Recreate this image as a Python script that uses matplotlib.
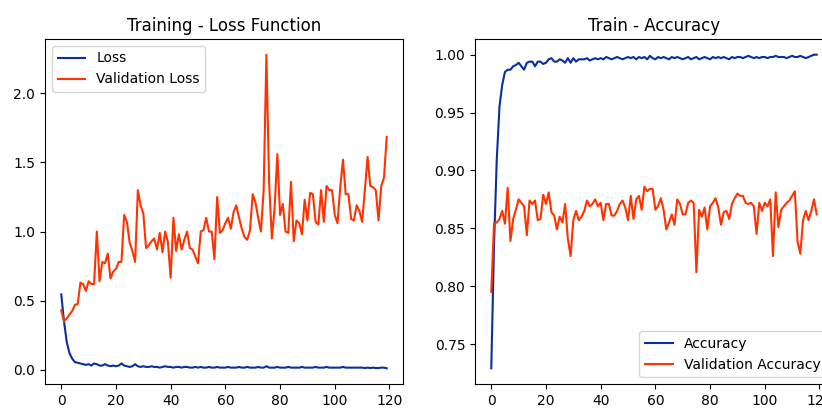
import matplotlib
matplotlib.use('Agg')
from matplotlib import pyplot as plt

### Data ###
loss = [0.545, 0.35, 0.20, 0.12, 0.08, 0.055, 0.05, 0.045, 0.04, 0.035,
        0.04, 0.03, 0.045, 0.04, 0.03, 0.03, 0.04, 0.03, 0.025, 0.03,
        0.025, 0.03, 0.045, 0.03, 0.025, 0.02, 0.025, 0.04, 0.025, 0.02,
        0.025, 0.02, 0.02, 0.025, 0.02, 0.02, 0.015, 0.02, 0.025, 0.02,
        0.02, 0.015, 0.02, 0.02, 0.015, 0.02, 0.02, 0.015, 0.015, 0.02,
        0.015, 0.02, 0.015, 0.015, 0.02, 0.015, 0.015, 0.02, 0.015, 0.015,
        0.015, 0.02, 0.015, 0.015, 0.015, 0.02, 0.015, 0.015, 0.02, 0.015,
        0.015, 0.015, 0.02, 0.015, 0.015, 0.025, 0.015, 0.015, 0.015, 0.02,
        0.015, 0.015, 0.015, 0.02, 0.015, 0.015, 0.015, 0.015, 0.02, 0.015,
        0.015, 0.015, 0.015, 0.02, 0.015, 0.015, 0.015, 0.02, 0.015, 0.015,
        0.015, 0.015, 0.015, 0.02, 0.015, 0.015, 0.015, 0.015, 0.015, 0.015,
        0.015, 0.012, 0.015, 0.012, 0.015, 0.012, 0.012, 0.015, 0.015, 0.01]

val_loss = [0.43, 0.35, 0.37, 0.40, 0.425, 0.47, 0.475, 0.63, 0.62, 0.57,
            0.64, 0.62, 0.62, 1.00, 0.64, 0.78, 0.77, 0.84, 0.66, 0.71,
            0.73, 0.78, 0.78, 1.12, 1.07, 0.92, 0.86, 0.78, 1.30, 1.19,
            1.13, 0.88, 0.90, 0.93, 0.95, 0.87, 0.99, 0.85, 1.00, 0.92,
            0.665, 1.10, 0.86, 0.98, 0.87, 0.94, 1.00, 0.88, 0.87, 0.82,
            0.77, 1.00, 1.01, 1.10, 1.00, 1.00, 0.80, 1.25, 0.99, 1.01,
            1.06, 1.10, 1.02, 1.14, 1.19, 1.10, 1.02, 0.96, 0.94, 1.01,
            1.27, 1.21, 1.10, 1.00, 1.30, 2.28, 1.35, 0.95, 1.17, 1.56,
            1.12, 1.20, 1.00, 0.99, 1.36, 0.93, 1.08, 1.06, 0.98, 1.23,
            1.08, 1.28, 1.27, 1.07, 1.05, 1.30, 1.07, 1.33, 1.30, 1.30,
            1.12, 1.06, 1.32, 1.52, 1.27, 1.27, 1.09, 1.08, 1.19, 1.15,
            1.07, 1.30, 1.54, 1.33, 1.32, 1.30, 1.08, 1.33, 1.39, 1.685]

accuracy = [0.729, 0.835, 0.909, 0.955, 0.974, 0.985, 0.987, 0.987, 0.990, 0.991,
            0.993, 0.990, 0.987, 0.993, 0.994, 0.994, 0.990, 0.994, 0.994, 0.992,
            0.993, 0.996, 0.997, 0.994, 0.994, 0.996, 0.995, 0.993, 0.997, 0.993,
            0.997, 0.994, 0.996, 0.996, 0.996, 0.997, 0.995, 0.996, 0.997, 0.996,
            0.997, 0.996, 0.998, 0.997, 0.996, 0.997, 0.998, 0.997, 0.996, 0.997,
            0.998, 0.997, 0.998, 0.996, 0.998, 0.997, 0.998, 0.996, 0.999, 0.997,
            0.996, 0.998, 0.997, 0.998, 0.997, 0.996, 0.998, 0.997, 0.998, 0.997,
            0.996, 0.997, 0.998, 0.996, 0.997, 0.998, 0.996, 0.997, 0.998, 0.997,
            0.996, 0.998, 0.997, 0.998, 0.997, 0.998, 0.997, 0.996, 0.998, 0.997,
            0.998, 0.998, 0.997, 0.998, 0.999, 0.998, 0.997, 0.998, 0.997, 0.998,
            0.998, 0.997, 0.998, 0.998, 0.999, 0.998, 0.998, 0.998, 0.997, 0.998,
            0.999, 0.998, 0.998, 0.999, 0.998, 0.997, 0.998, 0.999, 1.000, 1.000]

val_accuracy = [0.795, 0.854, 0.855, 0.858, 0.865, 0.854, 0.885, 0.839, 0.858, 0.866,
                0.875, 0.872, 0.869, 0.844, 0.874, 0.871, 0.874, 0.857, 0.858, 0.879,
                0.871, 0.881, 0.864, 0.861, 0.849, 0.860, 0.855, 0.871, 0.841, 0.826,
                0.857, 0.865, 0.857, 0.860, 0.865, 0.874, 0.869, 0.871, 0.875, 0.869,
                0.872, 0.857, 0.871, 0.871, 0.861, 0.861, 0.865, 0.871, 0.874, 0.868,
                0.857, 0.878, 0.858, 0.875, 0.878, 0.866, 0.886, 0.882, 0.884, 0.884,
                0.866, 0.869, 0.876, 0.866, 0.849, 0.855, 0.862, 0.853, 0.875, 0.871,
                0.862, 0.862, 0.872, 0.874, 0.872, 0.812, 0.866, 0.860, 0.868, 0.849,
                0.869, 0.872, 0.876, 0.868, 0.853, 0.864, 0.865, 0.858, 0.871, 0.876,
                0.880, 0.878, 0.878, 0.872, 0.871, 0.872, 0.869, 0.845, 0.872, 0.865,
                0.872, 0.869, 0.875, 0.826, 0.881, 0.851, 0.866, 0.869, 0.872, 0.874,
                0.878, 0.882, 0.838, 0.828, 0.857, 0.865, 0.857, 0.865, 0.875, 0.862]

epochs = list(range(len(loss)))

blue = '#0a2f9f'
red = '#ff3300'

fig = plt.figure(figsize=(8.22, 4.08), dpi=100)

# left : loss
ax1 = fig.add_axes([45 / 822, 24 / 408, 358 / 822, 345 / 408])
ax1.plot(epochs, loss, color=blue, lw=1.5, label='Loss')
ax1.plot(epochs, val_loss, color=red, lw=1.5, label='Validation Loss')
ax1.set_title('Training - Loss Function')
ax1.legend(loc='upper left')

# right : accuracy (cut by the figure edge like the reference)
ax2 = fig.add_axes([475 / 822, 24 / 408, 358 / 822, 345 / 408])
ax2.plot(epochs, accuracy, color=blue, lw=1.5, label='Accuracy')
ax2.plot(epochs, val_accuracy, color=red, lw=1.5, label='Validation Accuracy')
ax2.set_title('Train - Accuracy')
ax2.legend(loc='lower right')

fig.savefig('out.png', dpi=100)
